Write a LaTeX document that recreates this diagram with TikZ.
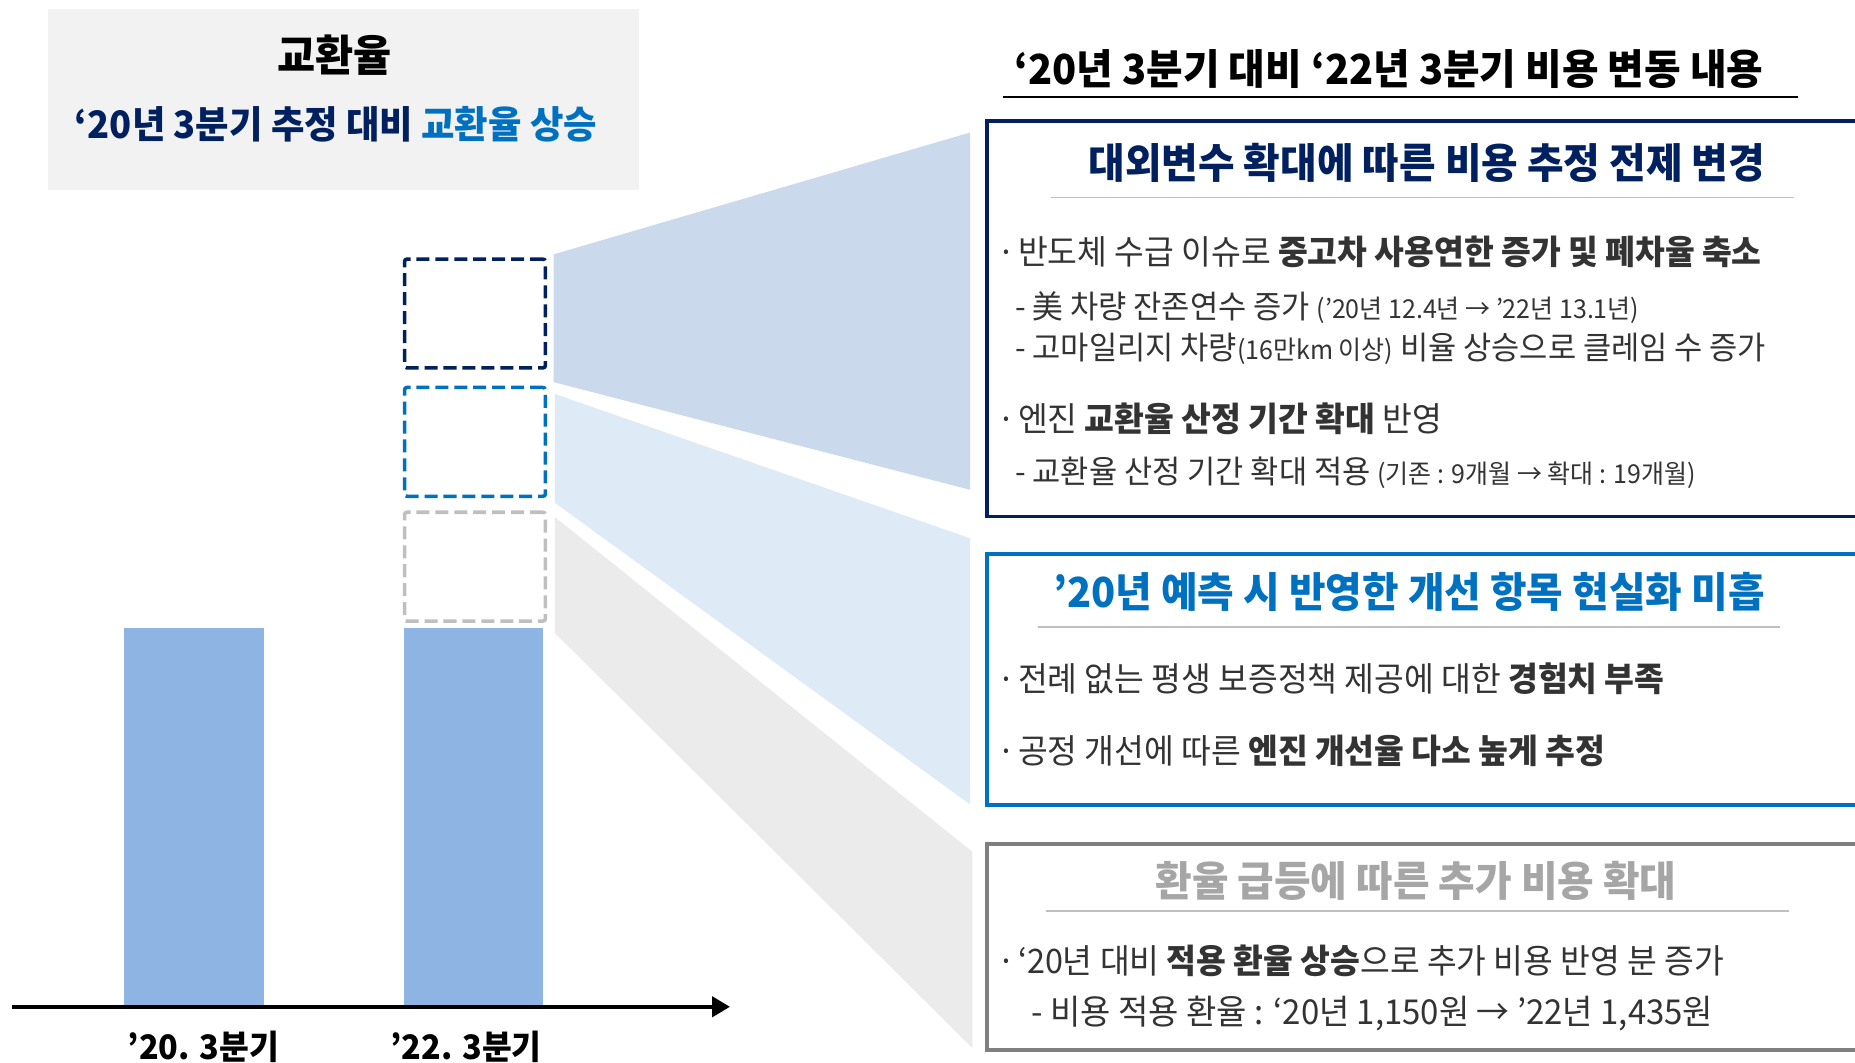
\documentclass[tikz,border=0pt]{standalone}
\usepackage{fontspec}
\setmainfont{Noto Sans CJK KR}[FakeStretch=0.96]
\usepackage{tikz}
\usetikzlibrary{shapes,arrows,positioning,calc,arrows.meta}

\definecolor{navy}{HTML}{002060}
\definecolor{cblue}{HTML}{0070C0}
\definecolor{cgray}{HTML}{7F7F7F}
\definecolor{tgray}{HTML}{A6A6A6}
\definecolor{dgray}{HTML}{BFBFBF}
\definecolor{barblue}{HTML}{8EB4E3}
\definecolor{fanA}{HTML}{CAD9EC}
\definecolor{fanB}{HTML}{DFEAF7}
\definecolor{fanC}{HTML}{EBEBEB}
\definecolor{hdbg}{HTML}{F2F2F2}
\definecolor{txt}{HTML}{333333}

\tikzset{
  big/.style={font=\bfseries\fontsize{35}{40}\selectfont},
  item/.style={anchor=west, inner sep=0pt, text=txt, font=\fontsize{28.5}{32}\selectfont},
  subitem/.style={item, font=\fontsize{27}{30}\selectfont},
  panel/.style={draw=#1, line width=3pt, anchor=north west, minimum width=780},
  dbox/.style={draw=#1, line width=3pt, dash pattern=on 11pt off 5pt, rounded corners=2pt,
    minimum width=119, minimum height=92},
  barbox/.style={fill=barblue, anchor=south west, minimum width=118, minimum height=320, inner sep=0pt},
  rule/.style={dgray, line width=1.5pt},
}
\newcommand{\sml}[1]{{\fontsize{22}{26}\selectfont #1}}
\newcommand{\bul}{·\kern2pt}

\begin{document}
\begin{tikzpicture}[x=1pt,y=-1pt]
    \useasboundingbox (0,0) rectangle (1568,897.7);

    % Left header
    \node[fill=hdbg, anchor=north west, minimum width=500, minimum height=153] (hbox) at (40,7) {};
    \node[font=\bfseries\fontsize{36.5}{40}\selectfont, text=black] (hname) at (283,47) {교환율};
    \node[font=\bfseries\fontsize{32}{36}\selectfont, text=navy] (hsub) at (284,105)
        {‘20년 3분기 추정 대비 \textcolor{cblue}{교환율 상승}};

    % Funnels
    \fill[fanA] (468,215) -- (820,112) -- (820,414) -- (468,323) -- cycle;
    \fill[fanB] (469,333) -- (820,455) -- (820,680) -- (469,425) -- cycle;
    \fill[fanC] (469,437) -- (822,720) -- (822,886) -- (469,535) -- cycle;

    % Bars
    \node[barbox] (b1) at (105,851) {};
    \node[barbox] (b2) at (341,851) {};
    \node[dbox=navy] (d1) at (401.5,265) {};
    \node[dbox=cblue] (d2) at (401.5,373.5) {};
    \node[dbox=dgray] (d3) at (401.5,479) {};

    % Axis
    \coordinate (ax0) at (10,851);
    \coordinate (ax1) at (617,851);
    \draw[line width=3pt, -{Triangle[length=15pt,width=17pt]}] (ax0) -- (ax1);
    \node[font=\bfseries\fontsize{28.5}{34}\selectfont] (l1) at (172,885) {’20. 3분기};
    \node[font=\bfseries\fontsize{28.5}{34}\selectfont] (l2) at (394,885) {’22. 3분기};

    % Right title
    \node[big, text=black] (ttl) at (1174,58) {‘20년 3분기 대비 ‘22년 3분기 비용 변동 내용};
    \draw[line width=2.5pt] (848,82) -- (1520,82);

    % Panel 1
    \node[panel=navy, minimum height=334] (p1) at (833,101) {};
    \node[big, text=navy] (t1) at (1206,138) {대외변수 확대에 따른 비용 추정 전제 변경};
    \draw[rule] (888,167) -- (1516,167);
    \node[item] (a1) at (843,213) {\bul 반도체 수급 이슈로 \textbf{중고차 사용연한 증가 및 폐차율 축소}};
    \node[subitem] (a2) at (858,260) {- 美 차량 잔존연수 증가 \sml{(’20년 12.4년 → ’22년 13.1년)}};
    \node[subitem] (a3) at (858,295) {- 고마일리지 차량\sml{(16만km 이상)} 비율 상승으로 클레임 수 증가};
    \node[item] (a4) at (843,354) {\bul 엔진 \textbf{교환율 산정 기간 확대} 반영};
    \node[subitem] (a5) at (858,400) {- 교환율 산정 기간 확대 적용 \sml{(기존 : 9개월 → 확대 : 19개월)}};

    % Panel 2
    \node[panel=cblue, minimum height=212] (p2) at (833,467) {};
    \node[big, text=cblue] (t2) at (1191,500) {’20년 예측 시 반영한 개선 항목 현실화 미흡};
    \draw[rule] (877,530) -- (1505,530);
    \node[item] (c1) at (843,574) {\bul 전례 없는 평생 보증정책 제공에 대한 \textbf{경험치 부족}};
    \node[item] (c2) at (843,635) {\bul 공정 개선에 따른 \textbf{엔진 개선율 다소 높게 추정}};

    % Panel 3
    \node[panel=cgray, minimum height=174] (p3) at (833,712) {};
    \node[big, text=tgray] (t3) at (1197,745) {환율 급등에 따른 추가 비용 확대};
    \draw[rule] (884,770) -- (1512,770);
    \node[item] (e1) at (843,812) {\bul ‘20년 대비 \textbf{적용 환율 상승}으로 추가 비용 반영 분 증가};
    \node[item, font=\fontsize{29}{32}\selectfont] (e2) at (872,857) {- 비용 적용 환율 : ‘20년 1,150원 → ’22년 1,435원};
\end{tikzpicture}
\end{document}
